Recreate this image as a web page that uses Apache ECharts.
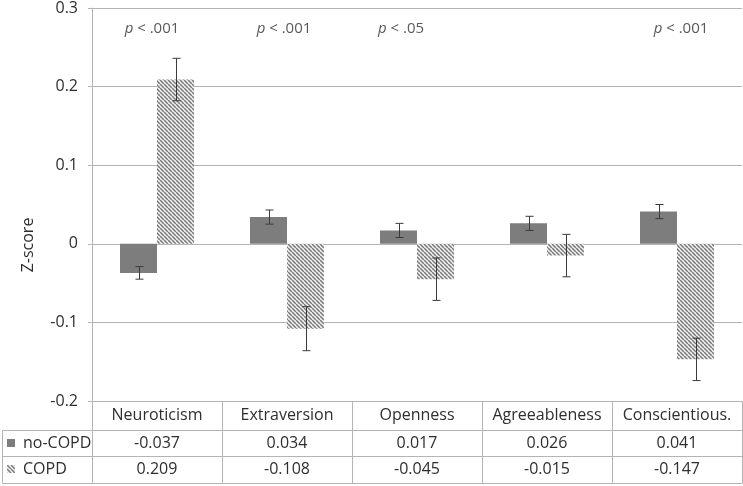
<!DOCTYPE html>
<html>
<head>
<meta charset="utf-8">
<script src="https://cdn.jsdelivr.net/npm/echarts@6/dist/echarts.min.js"></script>
<style>
html,body{margin:0;padding:0;background:#fff;}
#chart{width:743px;height:486px;}
</style>
</head>
<body>
<div id="chart"></div>
<script>
// ---- data ----
const categories = ['Neuroticism', 'Extraversion', 'Openness', 'Agreeableness', 'Conscientious.'];
const seriesNames = ['no-COPD', 'COPD'];
const noCopd = [-0.037, 0.034, 0.017, 0.026, 0.041];
const copd = [0.209, -0.108, -0.045, -0.015, -0.147];
const noCopdErr = [0.008, 0.009, 0.009, 0.009, 0.009];
const copdErr = [0.027, 0.028, 0.027, 0.027, 0.027];
const pLabels = ['p < .001', 'p < .001', 'p < .05', '', 'p < .001'];
const yTickLabels = ['-0.2', '-0.1', '0', '0.1', '0.2', '0.3'];

// ---- layout / style ----
const FONT = 'Open Sans';
const TXT = '#2e2e2e';
const LINE = '#b4b4b4';
const GRID_L = 92, GRID_R = 1, GRID_T = 7, GRID_B = 85;
const ROW1 = 29, ROW2 = 55, ROW3 = 82; // table row offsets below plot
const BAR_W = 37;
const P_Y = 0.273;
const pOffsets = [-5, -3, -16, 0, 4];

function hatch() {
  const s = 4;
  const c = document.createElement('canvas');
  c.width = s; c.height = s;
  const ctx = c.getContext('2d');
  ctx.fillStyle = '#f2f2f2';
  ctx.fillRect(0, 0, s, s);
  ctx.strokeStyle = '#7a7a7a';
  ctx.lineWidth = 1.5;
  for (const k of [-s, 0, s]) {
    ctx.beginPath();
    ctx.moveTo(k, 0);
    ctx.lineTo(k + s, s);
    ctx.stroke();
  }
  return { image: c, repeat: 'repeat' };
}
const hatchColor = hatch();

function errSeries(name, vals, errs, offset) {
  return {
    name: name + ' err',
    type: 'custom',
    xAxisIndex: 0, yAxisIndex: 0,
    silent: true,
    z: 5,
    data: vals.map((v, i) => [i, v, errs[i]]),
    renderItem: function (params, api) {
      const i = api.value(0), v = api.value(1), e = api.value(2);
      const hi = api.coord([i, v + e]);
      const lo = api.coord([i, v - e]);
      const x = Math.round(hi[0] + offset) + 0.5;
      const cap = 4;
      const st = { stroke: '#3a3a3a', lineWidth: 1 };
      return {
        type: 'group',
        children: [
          { type: 'line', shape: { x1: x, y1: hi[1], x2: x, y2: lo[1] }, style: st },
          { type: 'line', shape: { x1: x - cap, y1: hi[1], x2: x + cap, y2: hi[1] }, style: st },
          { type: 'line', shape: { x1: x - cap, y1: lo[1], x2: x + cap, y2: lo[1] }, style: st }
        ]
      };
    }
  };
}

function tableAxis(offset, labels, margin) {
  return {
    type: 'category',
    data: categories,
    position: 'bottom',
    offset: offset,
    gridIndex: 0,
    axisLine: { show: true, onZero: false, lineStyle: { color: LINE, width: 1 } },
    axisTick: { show: false },
    splitLine: { show: false },
    axisLabel: {
      show: !!labels,
      interval: 0,
      margin: margin,
      fontFamily: FONT, fontSize: 16, color: TXT,
      formatter: function (val, idx) { return labels ? labels[idx] : ''; }
    }
  };
}

const chart = echarts.init(document.getElementById('chart'), null, { renderer: 'canvas' });

const option = {
  animation: false,
  backgroundColor: '#ffffff',
  textStyle: { fontFamily: FONT },
  grid: { left: GRID_L, right: GRID_R, top: GRID_T, bottom: GRID_B, containLabel: false },
  legend: {
    data: seriesNames,
    orient: 'vertical',
    left: 7, top: 435,
    padding: 0,
    itemWidth: 8, itemHeight: 8,
    itemGap: 10,
    icon: 'rect',
    selectedMode: false,
    textStyle: { fontFamily: FONT, fontSize: 16, color: TXT, padding: [0, 0, 0, 3] }
  },
  xAxis: [
    {
      type: 'category',
      data: categories,
      position: 'bottom',
      axisLine: { show: true, onZero: false, lineStyle: { color: LINE } },
      axisTick: { show: true, interval: 0, alignWithLabel: false, length: ROW3, lineStyle: { color: LINE } },
      axisLabel: { interval: 0, margin: 6, fontFamily: FONT, fontSize: 16, color: TXT },
      splitLine: { show: false }
    },
    tableAxis(ROW1, noCopd.map(v => v.toFixed(3)), 5),
    tableAxis(ROW2, copd.map(v => v.toFixed(3)), 5),
    tableAxis(ROW3, null, 5)
  ],
  yAxis: {
    type: 'value',
    min: -0.2, max: 0.3, interval: 0.1,
    axisLine: { show: true, onZero: false, lineStyle: { color: LINE } },
    axisTick: { show: true, length: 4, lineStyle: { color: LINE } },
    axisLabel: {
      margin: 14, fontFamily: FONT, fontSize: 16, color: TXT,
      formatter: function (v, idx) { return yTickLabels[idx]; }
    },
    splitLine: { show: true, lineStyle: { color: LINE, width: 1 } }
  },
  series: [
    {
      name: seriesNames[0], type: 'bar', data: noCopd,
      barWidth: BAR_W, barGap: '0%',
      itemStyle: { color: '#7d7d7d' }
    },
    {
      name: seriesNames[1], type: 'bar', data: copd,
      barWidth: BAR_W, barGap: '0%',
      itemStyle: { color: hatchColor }
    },
    errSeries(seriesNames[0], noCopd, noCopdErr, -BAR_W / 2),
    errSeries(seriesNames[1], copd, copdErr, BAR_W / 2),
    {
      name: 'p', type: 'scatter', silent: true,
      symbolSize: 0,
      data: pLabels.map((p, i) => p ? { value: [i, P_Y], label: { offset: [pOffsets[i], 0] } } : null).filter(d => d),
      label: {
        show: true, position: 'inside',
        fontFamily: FONT, fontSize: 15, color: TXT,
        formatter: function (params) {
          const t = pLabels[params.value[0]];
          return '{i|p}' + t.slice(1);
        },
        rich: { i: { fontStyle: 'italic', fontFamily: FONT, fontSize: 15, color: TXT } }
      }
    }
  ],
  graphic: [
    {
      type: 'text', x: 28, y: 245, rotation: Math.PI / 2,
      style: { text: 'Z-score', fontFamily: FONT, fontSize: 16, fill: TXT, align: 'center', verticalAlign: 'middle' }
    },
    {
      type: 'polyline', silent: true,
      shape: { points: [[GRID_L, 430.5], [2.5, 430.5], [2.5, 483.5], [GRID_L, 483.5]] },
      style: { stroke: LINE, lineWidth: 1, fill: null }
    },
    {
      type: 'line', silent: true,
      shape: { x1: 2.5, y1: 456.5, x2: GRID_L, y2: 456.5 },
      style: { stroke: LINE, lineWidth: 1 }
    }
  ]
};
chart.setOption(option);
</script>
</body>
</html>
